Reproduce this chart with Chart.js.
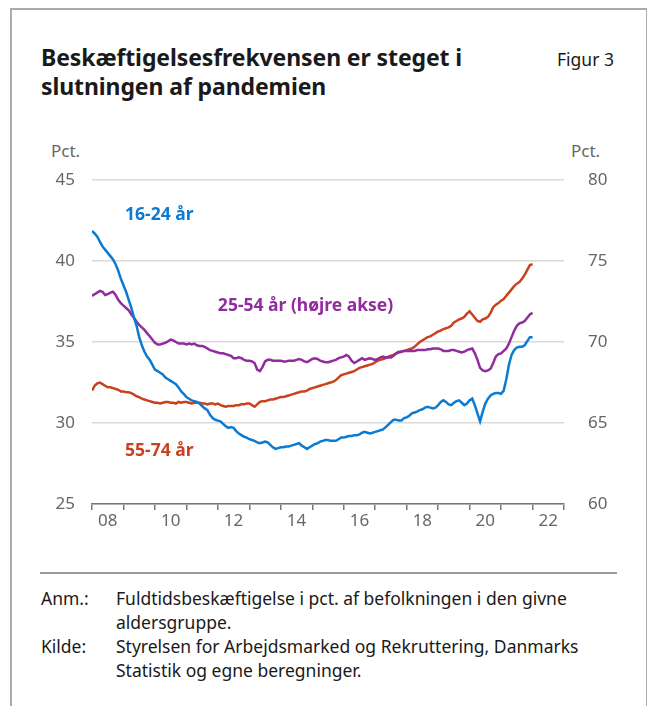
<!DOCTYPE html>
<html lang="da">
<head>
<meta charset="utf-8">
<script src="https://cdn.jsdelivr.net/npm/chart.js@4/dist/chart.umd.min.js"></script>
<style>
  body { margin: 0; width: 647px; height: 706px; background: #fff; font-family: 'Noto Sans', sans-serif; position: relative; overflow: hidden; }
  .frame { position: absolute; left: 10px; top: 8px; width: 634px; height: 720px; border: 2px solid #ababab; border-bottom: none; }
  .title { position: absolute; left: 41px; top: 43px; font-size: 23px; font-weight: 700; line-height: 29px; color: #1a1a1a; letter-spacing: -0.1px; }
  .figno { position: absolute; left: 557px; top: 47px; font-size: 17.5px; color: #1a1a1a; }
  .unit { position: absolute; top: 139px; font-size: 17px; color: #666; }
  .chart-box { position: absolute; left: 0; top: 140px; width: 647px; height: 400px; }
  .rule { position: absolute; left: 40px; top: 572px; width: 577px; height: 2px; background: #9a9a9a; }
  .notes { position: absolute; left: 41px; top: 586px; font-size: 17.5px; line-height: 24px; color: #1a1a1a; }
  .notes .row { display: flex; }
  .notes .key { width: 75px; flex: none; }
</style>
</head>
<body>
<div class="frame"></div>
<div class="title">Beskæftigelsesfrekvensen er steget i<br>slutningen af pandemien</div>
<div class="figno">Figur 3</div>
<div class="unit" style="left:51px">Pct.</div>
<div class="unit" style="left:571px">Pct.</div>
<div class="chart-box"><canvas id="chart"></canvas></div>
<div class="rule"></div>
<div class="notes">
  <div class="row"><span class="key">Anm.:</span><span>Fuldtidsbeskæftigelse i pct. af befolkningen i den givne<br>aldersgruppe.</span></div>
  <div class="row"><span class="key">Kilde:</span><span>Styrelsen for Arbejdsmarked og Rekruttering, Danmarks<br>Statistik og egne beregninger.</span></div>
</div>
<script>
// monthly values, Jan 2008 .. Jan 2022
const startYear = 2008

// 16-24 år, left axis
const youth = [
  41.85, 41.7, 41.5, 41.2, 40.9, 40.7, 40.5, 40.3, 40.1, 39.8, 39.4, 38.9,
  38.5, 38.1, 37.6, 37.1, 36.5, 36.0, 35.3, 34.8, 34.4, 34.1, 33.9, 33.6,
  33.3, 33.2, 33.1, 33.0, 32.8, 32.7, 32.6, 32.5, 32.4, 32.2, 31.95, 31.8,
  31.6, 31.5, 31.4, 31.35, 31.3, 31.2, 31.05, 30.9, 30.8, 30.5, 30.3, 30.2,
  30.15, 30.1, 29.95, 29.8, 29.7, 29.75, 29.7, 29.5, 29.35, 29.25, 29.15, 29.1,
  29.0, 28.95, 28.9, 28.8, 28.75, 28.8, 28.85, 28.8, 28.65, 28.5, 28.4, 28.45,
  28.5, 28.5, 28.55, 28.55, 28.6, 28.65, 28.7, 28.75, 28.6, 28.5, 28.4, 28.5,
  28.6, 28.7, 28.75, 28.85, 28.9, 28.95, 28.95, 28.9, 28.9, 28.9, 29.0, 29.1,
  29.1, 29.15, 29.2, 29.2, 29.25, 29.25, 29.3, 29.4, 29.45, 29.4, 29.35, 29.4,
  29.45, 29.5, 29.55, 29.6, 29.75, 29.9, 30.05, 30.2, 30.2, 30.15, 30.15, 30.3,
  30.35, 30.45, 30.6, 30.65, 30.7, 30.8, 30.85, 30.95, 31.0, 30.95, 30.9, 30.95,
  31.1, 31.3, 31.4, 31.3, 31.15, 31.1, 31.25, 31.35, 31.4, 31.25, 31.1, 31.2,
  31.4, 31.5, 31.1, 30.6, 30.1, 30.7, 31.2, 31.5, 31.7, 31.8, 31.85, 31.85,
  31.8, 32.0, 32.7, 33.6, 34.2, 34.5, 34.65, 34.7, 34.7, 34.8, 35.05, 35.3,
  35.3,
]

// 25-54 år, right axis
const prime = [
  72.85, 72.95, 73.05, 73.15, 73.1, 72.9, 72.95, 73.05, 73.1, 72.9, 72.6, 72.4,
  72.25, 72.1, 71.95, 71.7, 71.5, 71.25, 71.05, 70.9, 70.75, 70.55, 70.35, 70.15,
  69.95, 69.85, 69.85, 69.9, 69.95, 70.05, 70.15, 70.1, 70.0, 69.9, 69.9, 69.9,
  69.85, 69.9, 69.85, 69.9, 69.8, 69.75, 69.75, 69.7, 69.6, 69.5, 69.45, 69.4,
  69.35, 69.3, 69.3, 69.25, 69.2, 69.15, 69.0, 69.0, 69.05, 69.0, 68.9, 68.85,
  68.85, 68.8, 68.7, 68.3, 68.2, 68.45, 68.8, 68.9, 68.9, 68.85, 68.85, 68.85,
  68.85, 68.8, 68.8, 68.85, 68.85, 68.85, 68.9, 68.95, 68.9, 68.8, 68.75, 68.85,
  68.95, 69.0, 68.95, 68.85, 68.8, 68.75, 68.75, 68.8, 68.85, 68.9, 69.0, 69.05,
  69.1, 69.2, 69.1, 68.85, 68.7, 68.8, 68.9, 69.0, 68.9, 68.95, 69.0, 68.95,
  68.9, 68.95, 69.05, 69.1, 69.05, 69.05, 69.05, 69.15, 69.3, 69.4, 69.4, 69.45,
  69.45, 69.45, 69.45, 69.45, 69.5, 69.5, 69.5, 69.5, 69.55, 69.55, 69.6, 69.6,
  69.6, 69.55, 69.45, 69.45, 69.45, 69.5, 69.5, 69.45, 69.4, 69.35, 69.4, 69.5,
  69.55, 69.6, 69.3, 68.9, 68.4, 68.25, 68.2, 68.25, 68.35, 68.7, 69.1, 69.25,
  69.3, 69.45, 69.6, 69.9, 70.3, 70.7, 71.0, 71.15, 71.2, 71.3, 71.5, 71.7,
  71.8,
]

// 55-74 år, left axis
const senior = [
  32.0, 32.3, 32.45, 32.5, 32.4, 32.3, 32.2, 32.2, 32.15, 32.1, 32.05, 31.95,
  31.95, 31.9, 31.9, 31.85, 31.75, 31.65, 31.6, 31.5, 31.45, 31.4, 31.35, 31.3,
  31.25, 31.25, 31.2, 31.25, 31.3, 31.3, 31.25, 31.25, 31.2, 31.3, 31.25, 31.3,
  31.3, 31.25, 31.2, 31.25, 31.25, 31.25, 31.2, 31.2, 31.15, 31.2, 31.2, 31.15,
  31.2, 31.1, 31.05, 31.0, 31.05, 31.05, 31.05, 31.1, 31.1, 31.15, 31.15, 31.2,
  31.2, 31.1, 31.0, 31.15, 31.3, 31.35, 31.35, 31.4, 31.45, 31.45, 31.5, 31.55,
  31.6, 31.6, 31.65, 31.7, 31.75, 31.8, 31.85, 31.9, 31.95, 31.95, 32.0, 32.1,
  32.15, 32.2, 32.25, 32.3, 32.35, 32.4, 32.45, 32.5, 32.55, 32.65, 32.8, 32.95,
  33.0, 33.05, 33.1, 33.15, 33.2, 33.3, 33.4, 33.45, 33.5, 33.55, 33.6, 33.65,
  33.75, 33.85, 33.9, 33.95, 34.0, 34.1, 34.15, 34.2, 34.3, 34.35, 34.4, 34.45,
  34.5, 34.55, 34.6, 34.7, 34.85, 35.0, 35.1, 35.2, 35.3, 35.35, 35.45, 35.55,
  35.65, 35.7, 35.8, 35.85, 35.9, 36.0, 36.2, 36.3, 36.4, 36.45, 36.55, 36.75,
  36.9, 36.7, 36.5, 36.3, 36.25, 36.4, 36.45, 36.55, 36.8, 37.15, 37.3, 37.4,
  37.55, 37.65, 37.85, 38.05, 38.25, 38.45, 38.6, 38.7, 38.9, 39.15, 39.45, 39.75,
  39.8,
]

const leftTicks = [25, 30, 35, 40, 45]
const rightTicks = [60, 65, 70, 75, 80]

const seriesLabels = [
  { text: '16-24 år', x: 2009.05, y: 42.85, color: '#0b7bd2' },
  { text: '25-54 år (højre akse)', x: 2012.0, y: 37.2, color: '#902c9e' },
  { text: '55-74 år', x: 2009.05, y: 28.25, color: '#c8421f' },
]

const toPoints = (values) => values.map((v, i) => ({ x: startYear + i / 12, y: v }))

const tickFont = { family: 'Noto Sans', size: 17 }

// text labels next to the lines
const lineLabels = {
  id: 'lineLabels',
  afterDatasetsDraw(chart) {
    const { ctx, scales } = chart
    ctx.save()
    ctx.font = 'bold 17.5px "Noto Sans"'
    ctx.textBaseline = 'middle'
    seriesLabels.forEach((l) => {
      ctx.fillStyle = l.color
      ctx.fillText(l.text, scales.x.getPixelForValue(l.x), scales.y.getPixelForValue(l.y))
    })
    ctx.restore()
  },
}

new Chart(document.getElementById('chart'), {
  type: 'line',
  data: {
    datasets: [
      { data: toPoints(youth), borderColor: '#0b7bd2', yAxisID: 'y' },
      { data: toPoints(prime), borderColor: '#902c9e', yAxisID: 'y2' },
      { data: toPoints(senior), borderColor: '#c8421f', yAxisID: 'y' },
    ],
  },
  options: {
    responsive: true,
    maintainAspectRatio: false,
    animation: false,
    elements: {
      point: { radius: 0 },
      line: { borderWidth: 2.5, tension: 0 },
    },
    layout: { padding: { top: 40, left: 0, right: 0, bottom: 0 } },
    plugins: {
      legend: { display: false },
      tooltip: { enabled: false },
    },
    scales: {
      x: {
        type: 'linear',
        min: 2008,
        max: 2023,
        afterFit: (s) => { s.height = 36 },
        afterBuildTicks: (s) => {
          s.ticks = Array.from({ length: 16 }, (_, i) => ({ value: startYear + i }))
        },
        grid: { drawOnChartArea: false, color: '#777', lineWidth: 1.5, tickLength: 6 },
        border: { color: '#777', width: 1.5 },
        ticks: {
          font: tickFont,
          color: '#666',
          padding: 1,
          labelOffset: 15.7,
          maxRotation: 0,
          autoSkip: false,
          callback: (v) => (v % 2 === 0 && v < 2023 ? String(v % 100).padStart(2, '0') : ''),
        },
      },
      y: {
        position: 'left',
        min: 25,
        max: 45,
        afterFit: (s) => { s.width = 92 },
        afterBuildTicks: (s) => { s.ticks = leftTicks.map((v) => ({ value: v })) },
        grid: { color: '#d9d9d9', lineWidth: 1.5, drawTicks: false },
        border: { display: false },
        ticks: { font: tickFont, color: '#666', padding: 17 },
      },
      y2: {
        position: 'right',
        min: 60,
        max: 80,
        afterFit: (s) => { s.width = 83 },
        afterBuildTicks: (s) => { s.ticks = rightTicks.map((v) => ({ value: v })) },
        grid: { display: false },
        border: { display: false },
        ticks: { font: tickFont, color: '#666', padding: 16 },
      },
    },
  },
  plugins: [lineLabels],
})
</script>
</body>
</html>
